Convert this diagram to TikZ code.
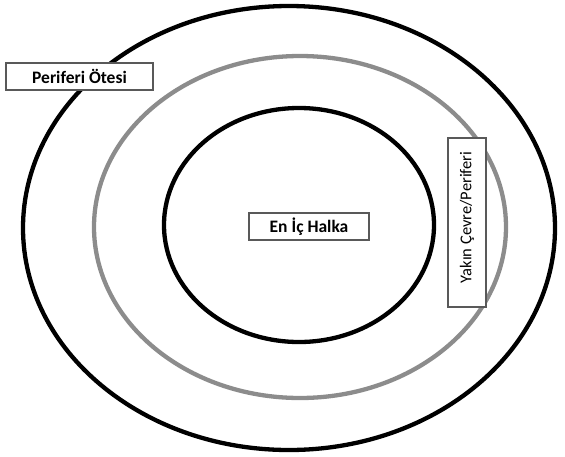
\documentclass[tikz,border=0pt]{standalone}
\usepackage{fontspec}
\setmainfont{Carlito}
\begin{document}
\begin{tikzpicture}[x=1pt,y=-1pt,
  ring/.style={line width=4.3pt,draw=black},
  grayring/.style={line width=4.3pt,draw=black!45},
  label/.style={draw=black!65,line width=1.3pt,fill=white,inner sep=0pt,font=\bfseries\fontsize{17.5}{20}\selectfont}]
\useasboundingbox (0,0) rectangle (565,456);
\draw[ring] (289,228) ellipse [x radius=266, y radius=222];
\draw[grayring] (300,227) ellipse [x radius=206, y radius=171];
\draw[ring] (299,225) ellipse [x radius=135, y radius=117];
\node[label,minimum width=147pt,minimum height=27pt] (pot) at (79.5,76.5) {Periferi Ötesi};
\node[label,minimum width=120pt,minimum height=27pt] (eih) at (309,226.5) {En İç Halka};
\node[label,minimum width=169pt,minimum height=38pt,rotate=90,font=\fontsize{16.5}{19}\selectfont] (ycp) at (467,222.5) {\hspace*{10pt}Yakın Çevre/Periferi};
\end{tikzpicture}
\end{document}
